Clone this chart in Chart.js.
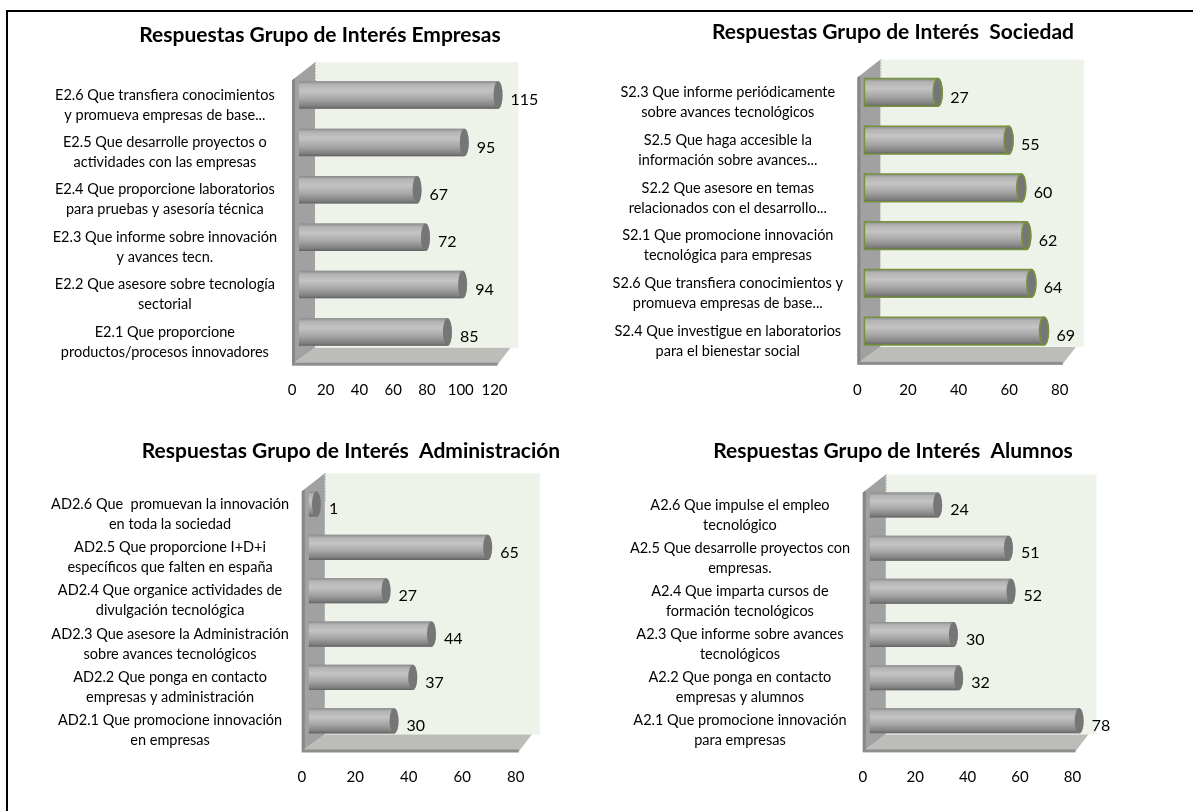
<!DOCTYPE html>
<html>
<head>
<meta charset="utf-8">
<script src="https://cdn.jsdelivr.net/npm/chart.js@4.4.1/dist/chart.umd.min.js"></script>
<style>
  html, body { margin: 0; padding: 0; background: #fff; }
  body { width: 1193px; height: 811px; position: relative; overflow: hidden; }
  .frame { position: absolute; left: 6px; top: 10px; width: 1300px; height: 900px;
           border-top: 2px solid #000; border-left: 2px solid #000; }
  .box { position: absolute; }
</style>
</head>
<body>
<div class="frame"></div>
<div class="box" style="left:8px;top:12px;width:572px;height:400px"><canvas id="empresas"></canvas></div>
<div class="box" style="left:580px;top:12px;width:613px;height:400px"><canvas id="sociedad"></canvas></div>
<div class="box" style="left:8px;top:400px;width:572px;height:411px"><canvas id="administracion"></canvas></div>
<div class="box" style="left:580px;top:400px;width:613px;height:411px"><canvas id="alumnos"></canvas></div>

<script>
// Empresas
const empresasLabels = [
  ['E2.6 Que transfiera conocimientos', 'y promueva empresas de base...'],
  ['E2.5 Que desarrolle proyectos o', 'actividades con las empresas'],
  ['E2.4 Que proporcione laboratorios', 'para pruebas y asesoría técnica'],
  ['E2.3 Que informe sobre innovación', 'y avances tecn.'],
  ['E2.2 Que asesore sobre tecnología', 'sectorial'],
  ['E2.1 Que proporcione', 'productos/procesos innovadores']
];
const empresasValues = [115, 95, 67, 72, 94, 85];

// Sociedad
const sociedadLabels = [
  ['S2.3 Que informe periódicamente', 'sobre avances tecnológicos'],
  ['S2.5 Que haga accesible la', 'información sobre avances...'],
  ['S2.2 Que asesore en temas', 'relacionados con el desarrollo...'],
  ['S2.1 Que promocione innovación', 'tecnológica para empresas'],
  ['S2.6 Que transfiera conocimientos y', 'promueva empresas de base...'],
  ['S2.4 Que investigue en laboratorios', 'para el bienestar social']
];
const sociedadValues = [27, 55, 60, 62, 64, 69];

// Administración
const adminLabels = [
  ['AD2.6 Que  promuevan la innovación', 'en toda la sociedad'],
  ['AD2.5 Que proporcione I+D+i', 'específicos que falten en españa'],
  ['AD2.4 Que organice actividades de', 'divulgación tecnológica'],
  ['AD2.3 Que asesore la Administración', 'sobre avances tecnológicos'],
  ['AD2.2 Que ponga en contacto', 'empresas y administración'],
  ['AD2.1 Que promocione innovación', 'en empresas']
];
const adminValues = [1, 65, 27, 44, 37, 30];

// Alumnos
const alumnosLabels = [
  ['A2.6 Que impulse el empleo', 'tecnológico'],
  ['A2.5 Que desarrolle proyectos con', 'empresas.'],
  ['A2.4 Que imparta cursos de', 'formación tecnológicos'],
  ['A2.3 Que informe sobre avances', 'tecnológicos'],
  ['A2.2 Que ponga en contacto', 'empresas y alumnos'],
  ['A2.1 Que promocione innovación', 'para empresas']
];
const alumnosValues = [24, 51, 52, 30, 32, 78];

Chart.defaults.font.family = 'Lato';
Chart.defaults.color = '#000';

// paredes y suelo en falso 3D
const walls3d = {
  id: 'walls3d',
  beforeDatasetsDraw(chart) {
    const { ctx, chartArea: a } = chart;
    const front = a.left - 12, back = a.left + 11;
    const top = a.top - 9;
    const floorBack = a.bottom - 8, floorFront = floorBack + 17;
    const right = a.right + 12;
    ctx.save();
    // fondo
    ctx.fillStyle = '#eef3e9';
    ctx.fillRect(back, top, right - back, floorBack - top);
    // pared lateral
    ctx.beginPath();
    ctx.moveTo(front, top + 18);
    ctx.lineTo(back, top);
    ctx.lineTo(back, floorBack);
    ctx.lineTo(front, floorFront);
    ctx.closePath();
    ctx.fillStyle = '#a1a1a1';
    ctx.fill();
    ctx.fillStyle = '#878787';
    ctx.beginPath();
    ctx.moveTo(front, top + 18);
    ctx.lineTo(front + 3, top + 16);
    ctx.lineTo(front + 3, floorFront - 2);
    ctx.lineTo(front, floorFront);
    ctx.closePath();
    ctx.fill();
    // borde punteado del fondo
    ctx.strokeStyle = '#9a9a9a';
    ctx.lineWidth = 1;
    ctx.setLineDash([1, 2]);
    ctx.beginPath();
    ctx.moveTo(back + 0.5, top);
    ctx.lineTo(back + 0.5, top + 30);
    ctx.stroke();
    ctx.setLineDash([]);
    // suelo
    ctx.beginPath();
    ctx.moveTo(back, floorBack);
    ctx.lineTo(right - 8, floorBack);
    ctx.lineTo(right - 21, floorFront);
    ctx.lineTo(front, floorFront);
    ctx.closePath();
    ctx.fillStyle = '#bcbdb9';
    ctx.fill();
    ctx.fillStyle = '#8e8e8e';
    ctx.fillRect(front, floorFront - 2, right - 21 - front, 3);
    ctx.restore();
  }
};

// cilindros y etiquetas de valor
const cylinders = {
  id: 'cylinders',
  afterDatasetsDraw(chart, args, opts) {
    const { ctx } = chart;
    const values = chart.data.datasets[0].data;
    ctx.save();
    chart.getDatasetMeta(0).data.forEach((bar, i) => {
      const { x, y, base, height } = bar.getProps(['x', 'y', 'base', 'height'], true);
      const h2 = height / 2, rx = 4.5, left = base - 5;
      const g = ctx.createLinearGradient(0, y - h2, 0, y + h2);
      g.addColorStop(0, '#8a8a8a');
      g.addColorStop(0.12, '#b3b3b3');
      g.addColorStop(0.35, '#c4c4c4');
      g.addColorStop(0.65, '#a6a6a6');
      g.addColorStop(0.9, '#808080');
      g.addColorStop(1, '#626262');
      ctx.beginPath();
      ctx.moveTo(left, y - h2);
      ctx.lineTo(x, y - h2);
      ctx.ellipse(x, y, rx, h2, 0, -Math.PI / 2, Math.PI / 2);
      ctx.lineTo(left, y + h2);
      ctx.closePath();
      ctx.fillStyle = g;
      ctx.fill();
      if (opts.outline) {
        ctx.strokeStyle = opts.outline;
        ctx.lineWidth = 1.5;
        ctx.stroke();
      }
      ctx.beginPath();
      ctx.ellipse(x, y, rx, h2, 0, 0, Math.PI * 2);
      ctx.fillStyle = '#767676';
      ctx.fill();
      if (opts.outline) ctx.stroke();
      ctx.fillStyle = '#000';
      ctx.font = '16px Lato';
      ctx.textBaseline = 'middle';
      ctx.textAlign = 'left';
      ctx.fillText(values[i], x + rx + 8, y + 5);
    });
    ctx.restore();
  }
};

// centra el título sobre el punto indicado
const titleCenter = {
  id: 'titleCenter',
  afterLayout(chart, args, opts) {
    const t = chart.titleBlock;
    const half = (t.right - t.left) / 2;
    t.left = opts.x - half;
    t.right = opts.x + half;
  }
};

function makeChart(id, title, labels, values, lay) {
  new Chart(document.getElementById(id), {
    type: 'bar',
    data: {
      labels: labels,
      datasets: [{
        data: values,
        backgroundColor: '#a5a5a5',
        borderWidth: 0,
        barPercentage: 0.58,
        categoryPercentage: 1
      }]
    },
    plugins: [walls3d, cylinders, titleCenter],
    options: {
      indexAxis: 'y',
      responsive: true,
      maintainAspectRatio: false,
      animation: false,
      layout: { padding: { left: 0, right: lay.pr, top: 0, bottom: 0 } },
      plugins: {
        legend: { display: false },
        tooltip: { enabled: false },
        title: {
          display: true,
          text: title,
          font: { size: 21, weight: 'bold', lineHeight: 1.2 },
          padding: { top: lay.tt, bottom: lay.tb }
        },
        titleCenter: { x: lay.tx },
        cylinders: { outline: lay.outline || null }
      },
      scales: {
        x: {
          min: 0,
          max: lay.max,
          ticks: { stepSize: 20, font: { size: 15, lineHeight: 1.2 }, padding: lay.xp, labelOffset: -12 },
          grid: { display: false, drawTicks: false },
          border: { display: false },
          afterFit: (s) => { s.height = lay.xh; }
        },
        y: {
          ticks: {
            font: { size: 14.5, lineHeight: '20px' },
            crossAlign: 'center',
            padding: lay.yp,
            labelOffset: 10
          },
          grid: { display: false, drawTicks: false },
          border: { display: false },
          afterFit: (s) => { s.width = lay.yw; }
        }
      }
    }
  });
}

makeChart('empresas', 'Respuestas Grupo de Interés Empresas', empresasLabels, empresasValues,
  { tx: 312, pr: 73.5, yw: 296, tt: 10.4, tb: 23.7, xh: 56.3, xp: 25.3, yp: 27, max: 120 });
makeChart('sociedad', 'Respuestas Grupo de Interés  Sociedad', sociedadLabels, sociedadValues,
  { tx: 313, pr: 121.2, yw: 289.4, tt: 7.4, tb: 24, xh: 57.1, xp: 26.1, yp: 26.4, max: 80, outline: '#76923c' });
makeChart('administracion', 'Respuestas Grupo de Interés  Administración', adminLabels, adminValues,
  { tx: 343, pr: 52.2, yw: 305.8, tt: 38.4, tb: 18.7, xh: 68.5, xp: 25.5, yp: 24.8, max: 80 });
makeChart('alumnos', 'Respuestas Grupo de Interés  Alumnos', alumnosLabels, alumnosValues,
  { tx: 313, pr: 108.6, yw: 294.8, tt: 38.4, tb: 19.8, xh: 68.6, xp: 25.6, yp: 24.8, max: 80 });
</script>
</body>
</html>
